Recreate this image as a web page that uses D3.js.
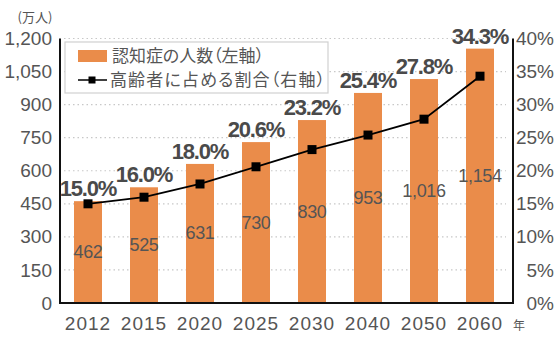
<!DOCTYPE html>
<html><head><meta charset="utf-8">
<script src="https://cdn.jsdelivr.net/npm/d3@7"></script>
<style>
html,body{margin:0;padding:0;background:#fff;}
svg{display:block;}
</style>
</head><body>
<svg id="chart" width="560" height="339"></svg>
<script>
const years = ["2012","2015","2020","2025","2030","2040","2050","2060"];
const patients = [462, 525, 631, 730, 830, 953, 1016, 1154];
const ratios = [15.0, 16.0, 18.0, 20.6, 23.2, 25.4, 27.8, 34.3];
const leftTicks = [0,150,300,450,600,750,900,1050,1200];
const rightTicks = [0,5,10,15,20,25,30,35,40];
const legendLabels = ["認知症の人数（左軸）","高齢者に占める割合（右軸）"];
const leftUnit = "(万人)";
const xUnit = "年";

const svg = d3.select("#chart");
const L = 60, R = 513, T = 38.5, B = 303;
const orange = "#EA8C4A";
const textCol = "#555";
const font = "'Liberation Sans', Arial, sans-serif";
const jfont = "'Noto Sans CJK JP', sans-serif";

const x = d3.scaleBand().domain(years).range([L, 508]).paddingInner(0.5).paddingOuter(0.25);
const yL = d3.scaleLinear().domain([0,1200]).range([B, T]);
const yR = d3.scaleLinear().domain([0,40]).range([B, T]);

// gridlines
svg.append("g").selectAll("line").data(leftTicks.filter(d=>d>0)).join("line")
  .attr("x1", L+4).attr("x2", 506)
  .attr("y1", d=>yL(d)).attr("y2", d=>yL(d))
  .attr("stroke", "#c8c8c8").attr("stroke-width", 1.2)
  .attr("stroke-dasharray", "1.5,3");

// bars
svg.append("g").selectAll("rect").data(years).join("rect")
  .attr("x", d=>x(d)).attr("width", x.bandwidth())
  .attr("y", (d,i)=>yL(patients[i])).attr("height", (d,i)=>B - yL(patients[i]))
  .attr("fill", orange);

// bar value labels
svg.append("g").selectAll("text").data(years).join("text")
  .attr("x", d=>x(d)+x.bandwidth()/2)
  .attr("y", (d,i)=>(yL(patients[i])+B)/2)
  .attr("text-anchor","middle").attr("dominant-baseline","central")
  .attr("font-family", font).attr("font-size", 18).attr("fill", textCol)
  .attr("letter-spacing", -0.3)
  .text((d,i)=>d3.format(",")(patients[i]));

// axes
const axisLeft = d3.axisLeft(yL).tickValues(leftTicks).tickSize(0).tickPadding(8).tickFormat(d3.format(","));
const gL = svg.append("g").attr("transform", `translate(${L},0)`).call(axisLeft);
gL.select(".domain").remove();
gL.selectAll("text").attr("font-family", font).attr("font-size", 19).attr("fill", textCol);

const axisRight = d3.axisRight(yR).tickValues(rightTicks).tickSize(0).tickPadding(0).tickFormat(d=>d+"%");
const gR = svg.append("g").attr("transform", `translate(${R},0)`).call(axisRight);
gR.select(".domain").remove();
gR.selectAll("text").attr("font-family", font).attr("font-size", 19).attr("fill", textCol)
  .attr("text-anchor","end").attr("x", 41);

const axisBottom = d3.axisBottom(x).tickSize(0).tickPadding(14);
const gB = svg.append("g").attr("transform", `translate(0,${B})`).call(axisBottom);
gB.select(".domain").remove();
gB.selectAll("text").attr("font-family", font).attr("font-size", 19).attr("fill", textCol)
  .attr("letter-spacing", 1);

// axis lines
svg.append("line").attr("x1", L).attr("x2", L).attr("y1", T).attr("y2", B+1).attr("stroke","#111").attr("stroke-width",2);
svg.append("line").attr("x1", R).attr("x2", R).attr("y1", T).attr("y2", B+1).attr("stroke","#111").attr("stroke-width",2);
svg.append("line").attr("x1", L-1).attr("x2", R+1).attr("y1", B).attr("y2", B).attr("stroke","#111").attr("stroke-width",2);

// units
svg.append("text").attr("x", 35).attr("y", 22).attr("text-anchor","middle")
  .attr("font-family", jfont).attr("font-size", 13).attr("fill", textCol).text(leftUnit);
svg.append("text").attr("x", 519).attr("y", 330).attr("text-anchor","middle")
  .attr("font-family", jfont).attr("font-size", 12).attr("fill", textCol).text(xUnit);

// line
const cx = d => x(d) + x.bandwidth()/2;
const line = d3.line().x((d,i)=>cx(years[i])).y(d=>yR(d));
svg.append("path").datum(ratios).attr("d", line).attr("fill","none").attr("stroke","#000").attr("stroke-width",1.8);
svg.append("g").selectAll("rect").data(ratios).join("rect")
  .attr("x",(d,i)=>cx(years[i])-4.5).attr("y", d=>yR(d)-4.5)
  .attr("width",9).attr("height",9).attr("fill","#000");

// percentage labels
svg.append("g").selectAll("text").data(ratios).join("text")
  .attr("x",(d,i)=>cx(years[i]))
  .attr("y",(d,i)=>yL(patients[i]) - 5)
  .attr("text-anchor","middle")
  .attr("font-family", font).attr("font-size", 22).attr("font-weight","bold")
  .attr("letter-spacing", -1.2)
  .attr("fill","#4a4a4a")
  .text(d=>d.toFixed(1)+"%");

// legend
const lg = svg.append("g");
lg.append("rect").attr("x",65).attr("y",42).attr("width",263).attr("height",51)
  .attr("fill","#fff").attr("stroke","#d0d0d0").attr("stroke-width",1.2);
lg.append("rect").attr("x",78).attr("y",50).attr("width",29).attr("height",12).attr("fill",orange);
lg.append("line").attr("x1",78).attr("x2",107).attr("y1",80).attr("y2",80).attr("stroke","#000").attr("stroke-width",1.5);
lg.append("rect").attr("x",88.5).attr("y",76.5).attr("width",7).attr("height",7).attr("fill","#000");
lg.selectAll("text.l").data(legendLabels).join("text")
  .attr("x",(d,i)=> i===0 ? 112 : 110)
  .attr("y",(d,i)=> 62 + i*24)
  .attr("font-family", jfont).attr("font-size", 17).attr("fill", textCol)
  .style("font-feature-settings", "'palt' 1")
  .attr("textLength",(d,i)=> i===0 ? 152 : 215)
  .attr("lengthAdjust","spacing")
  .text(d=>d);
</script>
</body></html>
